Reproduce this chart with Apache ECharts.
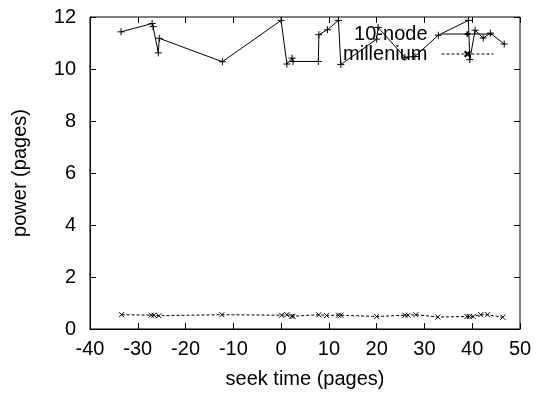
<!DOCTYPE html>
<html>
<head>
<meta charset="utf-8">
<script src="https://cdn.jsdelivr.net/npm/echarts@6/dist/echarts.min.js"></script>
<style>
html,body{margin:0;padding:0;background:#fff;}
#chart{width:536px;height:394px;}
</style>
</head>
<body>
<div id="chart"></div>
<script>
// 10-node series
const nodeX = [-33.5, -27.0, -26.8, -25.7, -25.5, -12.3, 0.0, 1.2, 2.3, 2.5, 7.8, 7.9, 9.7, 12.0, 12.5, 20.0, 20.3, 25.9, 28.0, 32.9, 39.2, 39.5, 40.6, 42.3, 43.8, 46.7];
const nodeY = [11.43, 11.75, 11.63, 10.62, 11.18, 10.28, 11.87, 10.19, 10.42, 10.29, 10.29, 11.32, 11.51, 11.87, 10.17, 11.15, 11.6, 10.45, 10.48, 11.3, 11.87, 10.36, 11.49, 11.19, 11.38, 10.96];
// millenium series
const milX = [-33.4, -27.2, -26.6, -25.6, -12.4, 0.1, 1.2, 2.2, 2.5, 7.9, 9.5, 12.0, 12.5, 20.0, 25.9, 26.6, 28.2, 32.8, 38.9, 39.4, 40.2, 41.8, 43.2, 46.4];
const milY = [0.55, 0.53, 0.53, 0.51, 0.55, 0.53, 0.55, 0.49, 0.49, 0.55, 0.52, 0.53, 0.53, 0.48, 0.53, 0.53, 0.55, 0.46, 0.48, 0.48, 0.48, 0.55, 0.55, 0.45];
const seriesNames = ['10-node', 'millenium'];
const xName = 'seek time (pages)';
const yName = 'power (pages)';

const FONT = "'Liberation Sans', Arial, sans-serif";
const plusPath = 'path://M0,5 L10,5 M5,0 L5,10';
const crossPath = 'path://M0,0 L10,10 M10,0 L0,10';

const chart = echarts.init(document.getElementById('chart'), null, {renderer: 'canvas'});
const tickCommon = {show: true, inside: true, length: 6, lineStyle: {color: '#000', width: 1}};
chart.setOption({
  animation: false,
  backgroundColor: '#fff',
  textStyle: {fontFamily: FONT, color: '#000'},
  grid: {left: 90, top: 17, width: 430, height: 312, show: true, borderColor: '#000', borderWidth: 1, backgroundColor: 'transparent'},
  legend: {
    orient: 'vertical', right: 37, top: 19, align: 'right',
    itemWidth: 52, itemHeight: 7, itemGap: 0,
    lineStyle: {width: 1},
    textStyle: {fontFamily: FONT, fontSize: 20, color: '#000', padding: [0, 9, 0, 0], lineHeight: 20},
    data: seriesNames
  },
  xAxis: [{
    type: 'value', min: -40, max: 50, interval: 10,
    name: xName, nameLocation: 'middle', nameGap: 40,
    nameTextStyle: {fontFamily: FONT, fontSize: 20, color: '#000'},
    axisLine: {show: true, onZero: false, lineStyle: {color: '#000'}},
    axisTick: tickCommon,
    axisLabel: {fontFamily: FONT, fontSize: 20, color: '#000', margin: 10},
    splitLine: {show: false}
  }, {
    type: 'value', position: 'top', min: -40, max: 50, interval: 10,
    axisLine: {show: false, onZero: false}, axisTick: tickCommon, axisLabel: {show: false}, splitLine: {show: false}
  }],
  yAxis: [{
    type: 'value', min: 0, max: 12, interval: 2,
    name: yName, nameLocation: 'middle', nameGap: 60,
    nameTextStyle: {fontFamily: FONT, fontSize: 20, color: '#000'},
    axisLine: {show: true, onZero: false, lineStyle: {color: '#000'}},
    axisTick: tickCommon,
    axisLabel: {fontFamily: FONT, fontSize: 20, color: '#000', margin: 14},
    splitLine: {show: false}
  }, {
    type: 'value', position: 'right', min: 0, max: 12, interval: 2,
    axisLine: {show: false, onZero: false}, axisTick: tickCommon, axisLabel: {show: false}, splitLine: {show: false}
  }],
  series: [{
    name: seriesNames[0], type: 'line',
    data: nodeX.map((x, i) => [x, nodeY[i]]),
    symbol: plusPath, symbolSize: 7, showAllSymbol: true,
    itemStyle: {color: 'none', borderColor: '#000', borderWidth: 1},
    lineStyle: {color: '#000', width: 1},
    color: '#000'
  }, {
    name: seriesNames[1], type: 'line',
    data: milX.map((x, i) => [x, milY[i]]),
    symbol: crossPath, symbolSize: 5, showAllSymbol: true,
    itemStyle: {color: 'none', borderColor: '#000', borderWidth: 1},
    lineStyle: {color: '#000', width: 1, type: [3, 2]},
    color: '#000'
  }]
});
</script>
</body>
</html>
